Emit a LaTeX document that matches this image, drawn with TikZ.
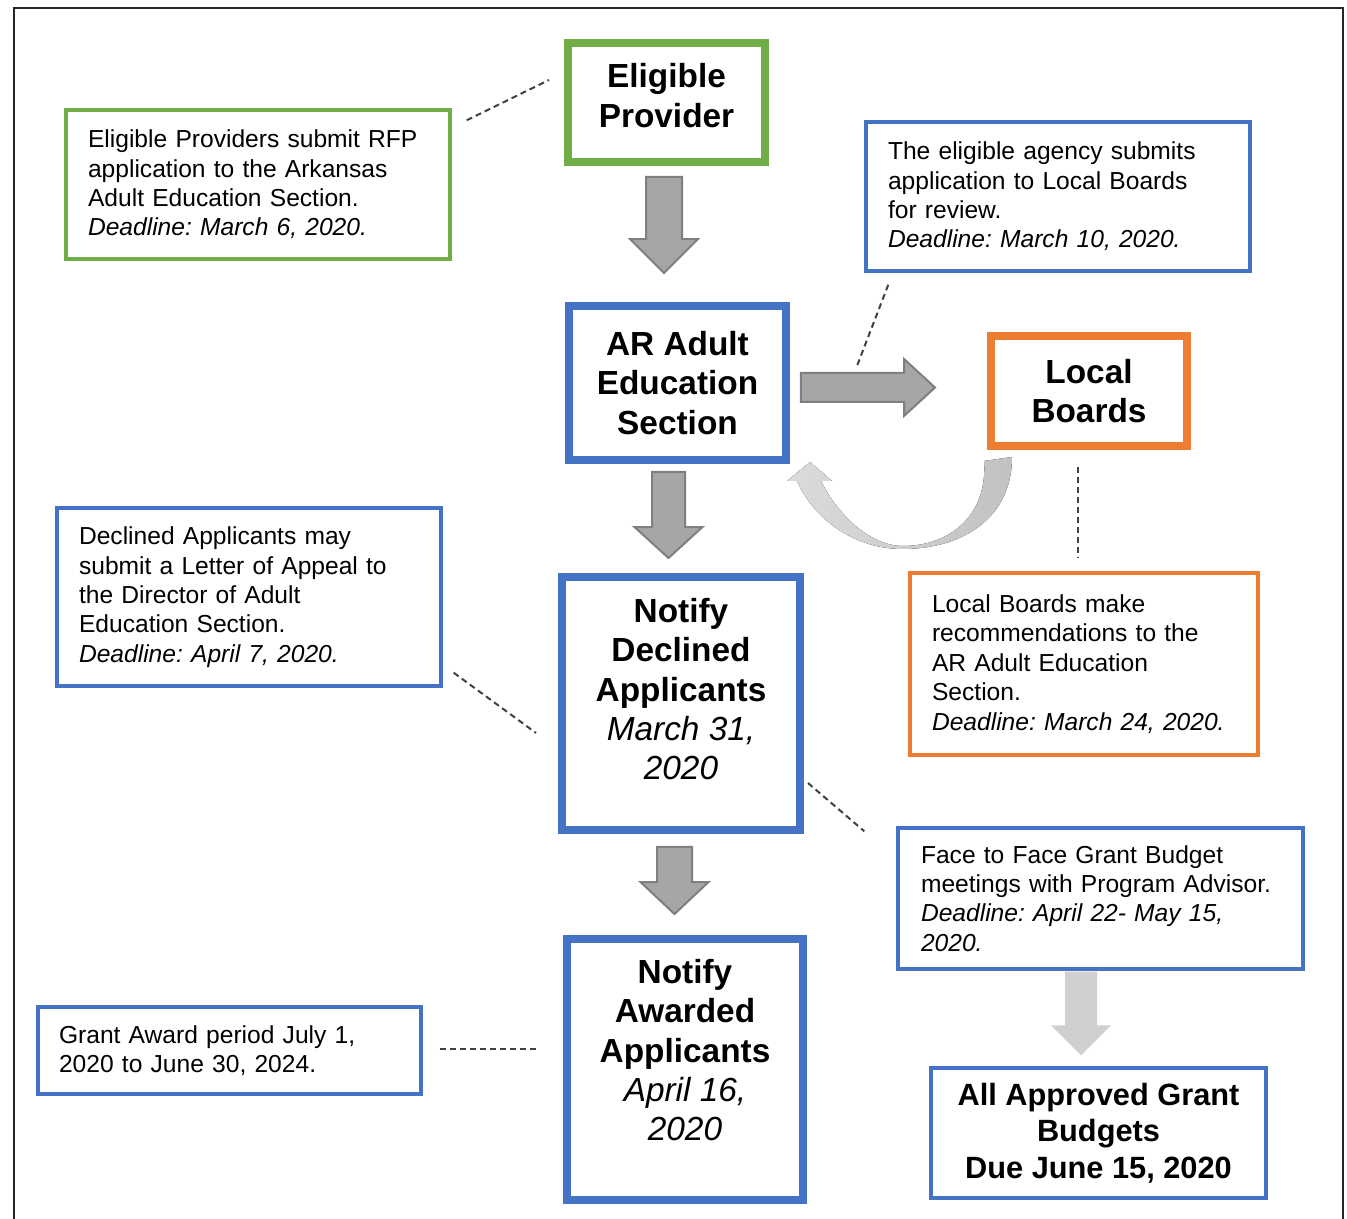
\documentclass[tikz,border=0pt]{standalone}
\usepackage{fontspec}
\setmainfont{Liberation Sans}
\usepackage{tikz}
\usetikzlibrary{calc}
\frenchspacing
\definecolor{grn}{RGB}{112,173,71}
\definecolor{blu}{RGB}{68,114,196}
\definecolor{org}{RGB}{237,125,49}
\definecolor{arrfill}{RGB}{166,166,166}
\definecolor{arrline}{RGB}{127,127,127}
\definecolor{lightarr}{RGB}{208,208,208}
\newcommand{\notefont}{\fontsize{14}{16.7}\selectfont}
\newcommand{\boxfont}{\fontsize{19}{22.3}\selectfont}
\newcommand{\budgetfont}{\fontsize{17.5}{20.7}\selectfont}
\newcommand{\blockarrow}[6][]{
  \coordinate (bh) at ($(#3)!#6!(#2)$);
  \path[#1] ($(#2)!#4!90:(#3)$) -- ($(bh)!#4!90:(#3)$) -- ($(bh)!#5!90:(#3)$) -- (#3)
    -- ($(bh)!#5!-90:(#3)$) -- ($(bh)!#4!-90:(#3)$) -- ($(#2)!#4!-90:(#3)$) -- cycle;
}
\tikzset{
  mainbox/.style={draw, line width=0.16cm, align=center, font=\boxfont\bfseries, inner sep=0pt},
  notebox/.style={draw, line width=0.07cm, align=left, font=\notefont, inner xsep=0.44cm, inner ysep=0pt},
  dashline/.style={black!75, line width=0.04cm, dash pattern=on 0.12cm off 0.08cm},
  grayarrow/.style={fill=arrfill, draw=arrline, line width=0.04cm, line join=miter},
  lightarrow/.style={fill=lightarr},
  frameline/.style={draw=black!85, line width=0.04cm}
}

\begin{document}
\begin{tikzpicture}[x=0.02cm, y=-0.02cm]
	\useasboundingbox (0,0) rectangle (1347,1219);
	\draw[frameline] (14,1219) -- (14,8) -- (1343,8) -- (1343,1219);

	\node[mainbox, draw=grn, minimum width=3.94cm, minimum height=2.38cm] (EP) at (666.5,102.5) {Eligible\\ Provider\\[-0.5cm]\mbox{}};
	\node[mainbox, draw=blu, minimum width=4.34cm, minimum height=3.08cm] (AR) at (677.5,383) {AR Adult\\ Education\\ Section};
	\node[mainbox, draw=org, minimum width=3.92cm, minimum height=2.2cm] (LB) at (1089,391) {Local\\ Boards};
	\node[mainbox, draw=blu, minimum width=4.76cm, minimum height=5.06cm] (ND) at (681,703.5) {Notify\\ Declined\\ Applicants\\ \textmd{\textit{March 31,}}\\ \textmd{\textit{2020}}\\[-0.2cm]\mbox{}};
	\node[mainbox, draw=blu, minimum width=4.72cm, minimum height=5.22cm] (NA) at (685,1069.5) {Notify\\ Awarded\\ Applicants\\ \textmd{\textit{April 16,}}\\ \textmd{\textit{2020}}\\ \mbox{}};
	\node[mainbox, draw=blu, line width=0.07cm, font=\budgetfont\bfseries, minimum width=6.7cm, minimum height=2.6cm] (AB) at (1098.5,1133) {All Approved Grant\\ Budgets\\ Due June 15, 2020};

	\node[notebox, draw=grn, text width=6.8cm, minimum height=2.98cm] (N1) at (258,184.5) {Eligible Providers submit RFP\\ application to the Arkansas\\ Adult Education Section.\\ \textit{Deadline: March 6, 2020.}};
	\node[notebox, draw=blu, text width=6.8cm, minimum height=2.98cm] (N2) at (1058,196.5) {The eligible agency submits\\ application to Local Boards\\ for review.\\ \textit{Deadline: March 10, 2020.}};
	\node[notebox, draw=blu, text width=6.8cm, minimum height=3.56cm] (N3) at (249,597) {Declined Applicants may\\ submit a Letter of Appeal to\\ the Director of Adult\\ Education Section.\\ \textit{Deadline: April 7, 2020.}};
	\node[notebox, draw=org, text width=6.08cm, minimum height=3.64cm] (N4) at (1084,664) {Local Boards make\\ recommendations to the\\ AR Adult Education\\ Section.\\ \textit{Deadline: March 24, 2020.}};
	\node[notebox, draw=blu, inner xsep=0.46cm, text width=7.18cm, minimum height=2.82cm] (N5) at (1100.5,898.5) {Face to Face Grant Budget\\ meetings with Program Advisor.\\ \textit{Deadline: April 22- May 15,}\\ \textit{2020.}};
	\node[notebox, draw=blu, inner xsep=0.42cm, text width=6.82cm, minimum height=1.74cm] (N6) at (229.5,1050.5) {Grant Award period July 1,\\ 2020 to June 30, 2024.};

	\coordinate (a1s) at ([shift={(-2.5,11)}]EP.south);
	\coordinate (a1e) at ([shift={(-13.5,-29)}]AR.north);
	\coordinate (a2s) at ([shift={(11,4.5)}]AR.east);
	\coordinate (a2e) at ([shift={(-52,-3.5)}]LB.west);
	\coordinate (a3s) at ([shift={(-9,8)}]AR.south);
	\coordinate (a3e) at ([shift={(-12.5,-15)}]ND.north);
	\coordinate (a4s) at ([shift={(-6.5,13)}]ND.south);
	\coordinate (a4e) at ([shift={(-10.5,-21)}]NA.north);
	\coordinate (a5s) at ([shift={(-19.5,1)}]N5.south);
	\coordinate (a5e) at ([shift={(-17.5,-11)}]AB.north);
	\blockarrow[grayarrow]{a1s}{a1e}{0.36cm}{0.68cm}{0.68cm}
	\blockarrow[grayarrow]{a2s}{a2e}{0.29cm}{0.57cm}{0.62cm}
	\blockarrow[grayarrow]{a3s}{a3e}{0.33cm}{0.68cm}{0.62cm}
	\blockarrow[grayarrow]{a4s}{a4e}{0.35cm}{0.68cm}{0.64cm}
	\blockarrow[lightarrow]{a5s}{a5e}{0.32cm}{0.6cm}{0.6cm}

	\coordinate (cs) at ([shift={(-3,11)}]LB.south west);
	\coordinate (ce) at ([shift={(20,-2)}]AR.south east);
	\fill[left color=gray!28, right color=gray!48] (cs) -- (1012,457) .. controls (1012,520) and (960,549) .. (903,549)
		.. controls (850,549) and (812,515) .. (797,481) -- (787,481) -- (ce) -- (832,481) -- (821,481)
		.. controls (838,515) and (870,546) .. (903,546) .. controls (950,546) and (988,515) .. (cs) -- cycle;

	\draw[dashline] ([shift={(15,12)}]N1.north east) -- ([shift={(-15,-22.5)}]EP.west);
	\draw[dashline] ([shift={(24,12)}]N2.south west) -- ([shift={(67,64)}]AR.north east);
	\draw[dashline] ([shift={(-11,17)}]LB.south) -- ([shift={(-6,-13)}]N4.north);
	\draw[dashline] ([shift={(11,-15)}]N3.south east) -- ([shift={(-22,29.5)}]ND.west);
	\draw[dashline] ([shift={(4,79.5)}]ND.east) -- ([shift={(-32,5)}]N5.north west);
	\draw[dashline] ([shift={(17,-1.5)}]N6.east) -- ([shift={(-27,-20.5)}]NA.west);
\end{tikzpicture}
\end{document}
